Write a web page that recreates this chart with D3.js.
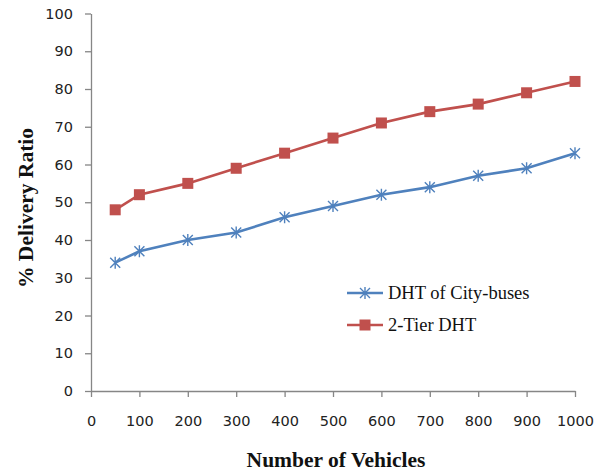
<!DOCTYPE html>
<html>
<meta charset="utf-8">
<style>
body { margin: 0; background: #fff; }
svg { display: block; }
.tick text { font-family: "DejaVu Sans", Verdana, sans-serif; font-size: 14.5px; fill: #222; }
.axis path, .axis line { stroke: #868686; stroke-width: 1.3; }
.title { font-family: "Liberation Serif", "Times New Roman", serif; font-weight: bold; font-size: 21.5px; fill: #111; }
.legend text { font-family: "Liberation Serif", "Times New Roman", serif; font-size: 18.5px; fill: #111; }
</style>
<body>
<script src="https://cdn.jsdelivr.net/npm/d3@7"></script>
<script>
var vehicles = [50, 100, 200, 300, 400, 500, 600, 700, 800, 900, 1000];
var cityBuses = [34, 37, 40, 42, 46, 49, 52, 54, 57, 59, 63];
var twoTier = [48, 52, 55, 59, 63, 67, 71, 74, 76, 79, 82];
var xTicks = [0, 100, 200, 300, 400, 500, 600, 700, 800, 900, 1000];
var yTicks = [0, 10, 20, 30, 40, 50, 60, 70, 80, 90, 100];

var series = [
  {name: "DHT of City-buses", values: cityBuses, color: "#4F81BD", marker: "star"},
  {name: "2-Tier DHT", values: twoTier, color: "#C0504D", marker: "square"}
];

var width = 597, height = 474;
var x = d3.scaleLinear().domain([0, 1000]).range([91, 575]);
var y = d3.scaleLinear().domain([0, 100]).range([391, 13.5]);

var svg = d3.select("body").append("svg")
    .attr("width", width)
    .attr("height", height);

svg.append("g")
    .attr("class", "axis")
    .attr("transform", "translate(91,0)")
    .call(d3.axisLeft(y).tickValues(yTicks).tickFormat(d3.format("d")).tickSize(6).tickSizeOuter(0))
    .call(function(g) { g.selectAll(".tick text").attr("x", -18); });

svg.append("g")
    .attr("class", "axis")
    .attr("transform", "translate(0,391)")
    .call(d3.axisBottom(x).tickValues(xTicks).tickFormat(d3.format("d")).tickSize(6).tickSizeOuter(0))
    .call(function(g) { g.selectAll(".tick text").attr("y", 25); });

var line = d3.line()
    .x(function(d, i) { return x(vehicles[i]); })
    .y(function(d) { return y(d); });

function drawMarker(g, type, color) {
  if (type === "square") {
    g.append("rect").attr("x", -5.5).attr("y", -5.5).attr("width", 11).attr("height", 11)
      .attr("fill", color);
  } else {
    g.append("path")
      .attr("d", "M-5,-5L5,5M-5,5L5,-5M0,-6L0,6")
      .attr("stroke", color).attr("stroke-width", 1.4).attr("fill", "none");
  }
}

series.forEach(function(s) {
  svg.append("path")
      .datum(s.values)
      .attr("fill", "none")
      .attr("stroke", s.color)
      .attr("stroke-width", 2.6)
      .attr("d", line);
  s.values.forEach(function(v, i) {
    var g = svg.append("g").attr("transform", "translate(" + x(vehicles[i]) + "," + y(v) + ")");
    drawMarker(g, s.marker, s.color);
  });
});

var legend = svg.selectAll(".legend")
    .data(series)
    .enter().append("g")
    .attr("class", "legend")
    .attr("transform", function(d, i) { return "translate(347," + (293 + i * 32) + ")"; });
legend.append("line")
    .attr("x1", 0).attr("x2", 36)
    .attr("stroke", function(d) { return d.color; })
    .attr("stroke-width", 2.6);
legend.each(function(d) {
  var g = d3.select(this).append("g").attr("transform", "translate(18,0)");
  drawMarker(g, d.marker, d.color);
});
legend.append("text")
    .attr("x", 41)
    .attr("dy", "0.35em")
    .text(function(d) { return d.name; });

svg.append("text")
    .attr("class", "title")
    .attr("x", 336)
    .attr("y", 467)
    .attr("text-anchor", "middle")
    .text("Number of Vehicles");

svg.append("text")
    .attr("class", "title")
    .attr("transform", "translate(33,208) rotate(-90)")
    .attr("text-anchor", "middle")
    .text("% Delivery Ratio");
</script>
</body>
</html>
